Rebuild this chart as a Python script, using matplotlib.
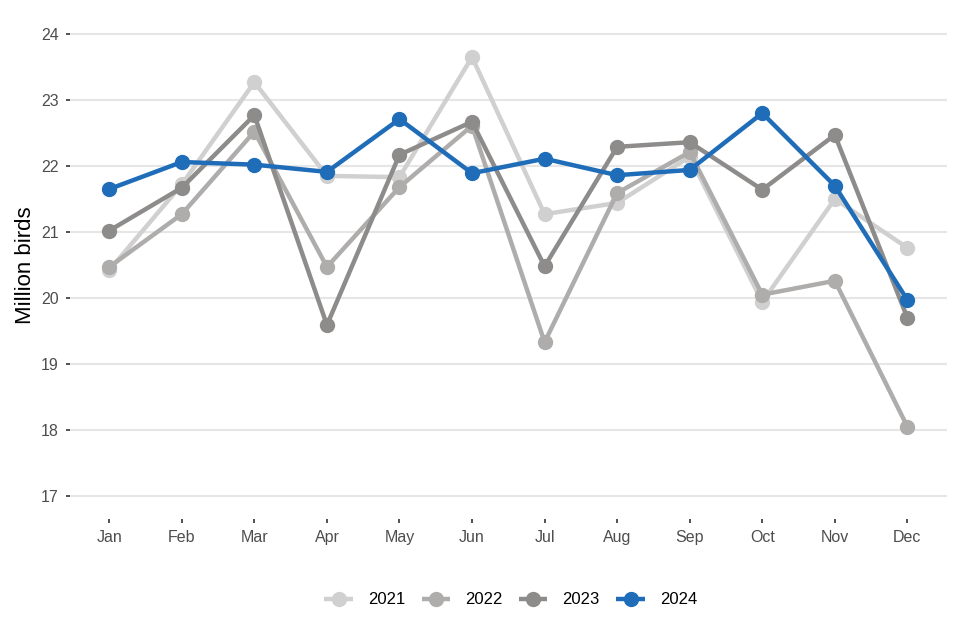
import matplotlib
matplotlib.use("Agg")
import matplotlib.pyplot as plt

months = ["Jan", "Feb", "Mar", "Apr", "May", "Jun", "Jul", "Aug", "Sep", "Oct", "Nov", "Dec"]
y2021 = [20.42, 21.72, 23.27, 21.85, 21.83, 23.65, 21.27, 21.44, 22.14, 19.94, 21.50, 20.76]
y2022 = [20.47, 21.27, 22.52, 20.47, 21.68, 22.61, 19.33, 21.59, 22.21, 20.05, 20.26, 18.05]
y2023 = [21.02, 21.67, 22.77, 19.59, 22.17, 22.67, 20.48, 22.29, 22.36, 21.64, 22.47, 19.70]
y2024 = [21.65, 22.06, 22.02, 21.91, 22.71, 21.89, 22.11, 21.86, 21.94, 22.80, 21.70, 19.97]

series = [("2021", y2021, "#d1d0d0"), ("2022", y2022, "#afacac"),
          ("2023", y2023, "#8e8b8b"), ("2024", y2024, "#1f6db8")]

plt.rcParams['font.family'] = ['Liberation Sans', 'DejaVu Sans']

fig = plt.figure(figsize=(9.6, 6.4), dpi=100)
ax = fig.add_axes([0.073, 0.189, 0.913, 0.794])

x = list(range(1, 13))
for name, vals, col in series:
    ax.plot(x, vals, '-o', color=col, lw=3.2, ms=10, label=name, solid_capstyle='butt')

ax.set_xlim(0.46, 12.54)
ax.set_ylim(16.65, 24.35)
ax.set_xticks(x)
ax.set_xticklabels(months)
ax.set_yticks(range(17, 25))
ax.grid(axis='y', color='#e6e6e6', lw=1.5)
ax.set_axisbelow(True)
for s in ax.spines.values():
    s.set_visible(False)
ax.tick_params(axis='both', colors='#333333', labelcolor='#4d4d4d', labelsize=11.5,
               length=3, width=1.2, pad=5)
ax.set_ylabel("Million birds", fontsize=16, color='black', labelpad=4)

leg = fig.legend(loc='center', bbox_to_anchor=(0.532, 0.0625), ncol=4, frameon=False,
                 fontsize=12, handlelength=1.7, columnspacing=1.0, handletextpad=0.9)

fig.savefig("out.png", dpi=100)
